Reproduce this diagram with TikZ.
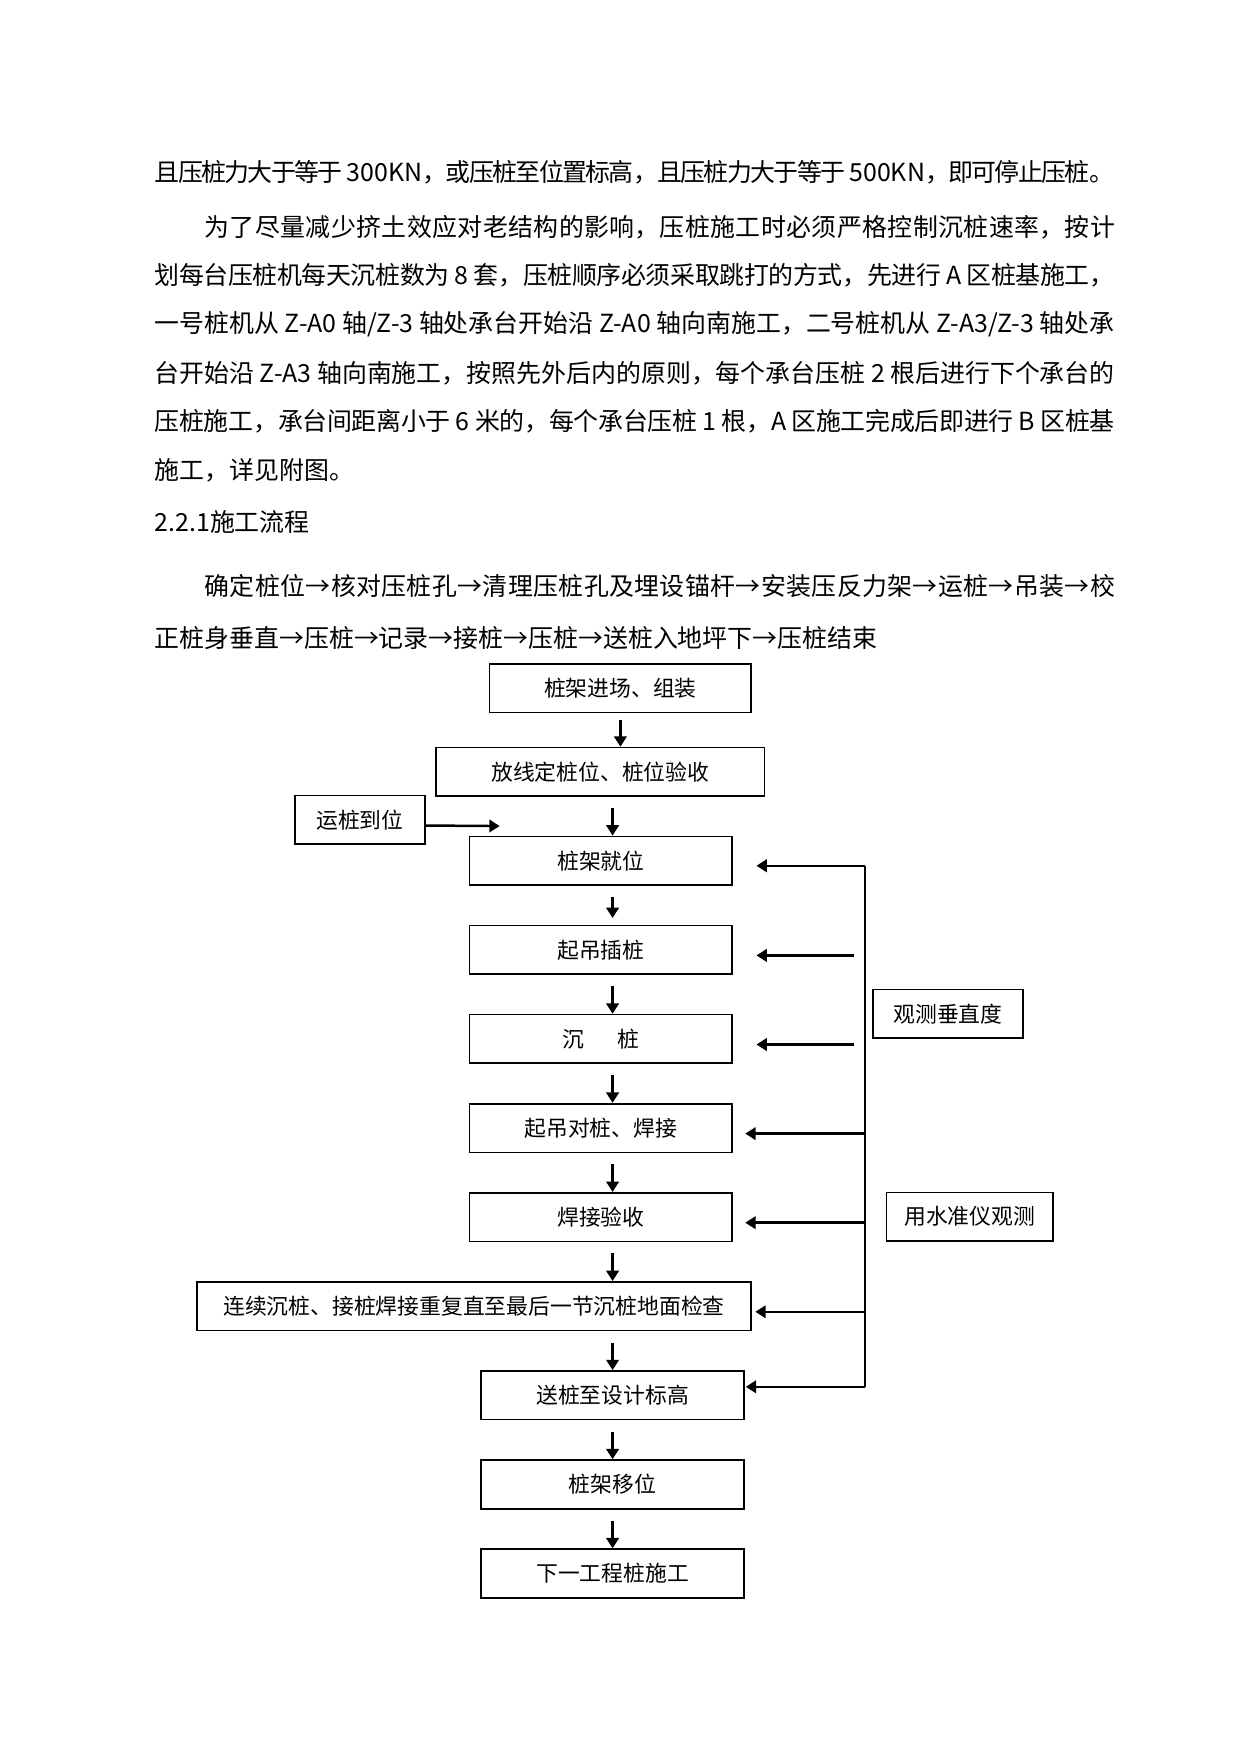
\documentclass[tikz,border=0pt]{standalone}
\usepackage{fontspec}
\setmainfont{Noto Sans CJK SC}
\usetikzlibrary{arrows.meta,positioning,calc}

\XeTeXlinebreaklocale "zh"
\XeTeXlinebreakskip=0pt plus 2pt minus 1pt
\newcommand{\pu}{0.018919cm}
\newcommand{\nofill}{\parfillskip=0pt\par}

\begin{document}
\begin{tikzpicture}[x=\pu,y=-\pu,node distance=1.508cm,on grid]
       \tikzstyle{box}=[draw, line width=0.8pt, minimum width=235*\pu, minimum height=43.5*\pu,
                        inner sep=0pt, font=\fontsize{10.5}{12}\selectfont]
       \tikzstyle{flow}=[-{Triangle[length=5pt,width=6pt]}, line width=1.2pt]
       \tikzstyle{para}=[anchor=west, inner sep=0pt, font=\fontsize{12}{14}\selectfont]
       \tikzstyle{wideline}=[para, align=justify, text width=16.25cm]
       \tikzstyle{indentline}=[para, align=justify, text width=15.41cm]

       \useasboundingbox (0,0) rectangle (1110,1570);

       % text above the chart
       \node[wideline]   (p1)  at (138,154)   {且压桩力大于等于 300KN，或压桩至位置标高，且压桩力大于等于 500KN，即可停止压桩。\nofill};
       \node[indentline] (p2a) at (182.6,203) {为了尽量减少挤土效应对老结构的影响，压桩施工时必须严格控制沉桩速率，按计\nofill};
       \node[wideline]   (p2b) at (138,246.5) {划每台压桩机每天沉桩数为 8 套，压桩顺序必须采取跳打的方式，先进行 A 区桩基施工，\nofill};
       \node[wideline]   (p2c) at (138,290)   {一号桩机从 Z-A0 轴/Z-3 轴处承台开始沿 Z-A0 轴向南施工，二号桩机从 Z-A3/Z-3 轴处承\nofill};
       \node[wideline]   (p2d) at (138,333.5) {台开始沿 Z-A3 轴向南施工，按照先外后内的原则，每个承台压桩 2 根后进行下个承台的\nofill};
       \node[wideline]   (p2e) at (138,377)   {压桩施工，承台间距离小于 6 米的，每个承台压桩 1 根，A 区施工完成后即进行 B 区桩基\nofill};
       \node[para]       (p2f) at (138,420.5) {施工，详见附图。};
       \node[para]       (sec) at (138,467)   {2.2.1施工流程};
       \node[indentline] (p3a) at (182.6,524) {确定桩位→核对压桩孔→清理压桩孔及埋设锚杆→安装压反力架→运桩→吊装→校\nofill};
       \node[para]       (p3b) at (138,571)   {正桩身垂直→压桩→记录→接桩→压桩→送桩入地坪下→压桩结束};

       % chart
       \node[box, minimum width=234*\pu] (jinchang)  at (555,615.5)  {桩架进场、组装};
       \node[box, minimum width=294*\pu] (fangxian)  at (537,690.5)  {放线定桩位、桩位验收};
       \node[box, minimum width=116*\pu] (yunzhuang) at (322,733.5)  {运桩到位};
       \node[box]                        (jiuwei)    at (537.5,770)  {桩架就位};
       \node[box] (chazhuang)  [below=of jiuwei]     {起吊插桩};
       \node[box] (chenzhuang) [below=of chazhuang]  {沉\hspace{1.5em}桩};
       \node[box] (duizhuang)  [below=of chenzhuang] {起吊对桩、焊接};
       \node[box] (yanshou)    [below=of duizhuang]  {焊接验收};
       \node[box, minimum width=496*\pu] (lianxu) [below=of yanshou, xshift=-113.5*\pu]
            {连续沉桩、接桩焊接重复直至最后一节沉桩地面检查};
       \node[box] (songzhuang) [below=of lianxu, xshift=124*\pu] {送桩至设计标高};
       \node[box] (yiwei)      [below=of songzhuang] {桩架移位};
       \node[box] (xiayi)      [below=of yiwei]      {下一工程桩施工};

       \node[box, minimum width=134*\pu] (chuizhi)  at (848,907)     {观测垂直度};
       \node[box, minimum width=149*\pu] (shuizhun) at (867.5,1088.5) {用水准仪观测};

       \coordinate (axis)  at (548,0);
       \coordinate (rail)  at (773.7,0);
       \coordinate (yzend) at (447,739);
       \coordinate (railtop) at ($(rail |- jiuwei.east)+(0,4.5)$);
       \coordinate (railbot) at ($(rail |- songzhuang.east)+(0,-7.6)$);

       % main column
       \path[flow]
       (jinchang.south) edge [shorten <=3.2pt] (jinchang.south |- fangxian.north)
       (axis |- fangxian.south)   edge [shorten <=5.4pt] (axis |- jiuwei.north)
       (axis |- jiuwei.south)     edge [shorten <=5.4pt, shorten >=3.2pt] (axis |- chazhuang.north)
       (axis |- chazhuang.south)  edge [shorten <=5.4pt] (axis |- chenzhuang.north)
       (axis |- chenzhuang.south) edge [shorten <=5.4pt] (axis |- duizhuang.north)
       (axis |- duizhuang.south)  edge [shorten <=5.4pt] (axis |- yanshou.north)
       (axis |- yanshou.south)    edge [shorten <=5.4pt] (axis |- lianxu.north)
       (axis |- lianxu.south)     edge [shorten <=5.4pt] (axis |- songzhuang.north)
       (axis |- songzhuang.south) edge [shorten <=5.4pt] (axis |- yiwei.north)
       (axis |- yiwei.south)      edge [shorten <=5.4pt] (axis |- xiayi.north);

       \draw[flow] ($(yunzhuang.east)+(0,5)$) -- (yzend);

       % feedback from the right
       \draw[line width=1pt] (railtop) -- (railbot);
       \draw[flow, shorten >=11.3pt] (railtop) -- (railtop -| jiuwei.east);
       \draw[flow, line width=1.5pt, shorten <=5.2pt, shorten >=11.3pt]
            ($(rail |- chazhuang.east)+(0,5)$) -- ($(chazhuang.east)+(0,5)$);
       \draw[flow, line width=1.5pt, shorten <=5.2pt, shorten >=11.3pt]
            ($(rail |- chenzhuang.east)+(0,5)$) -- ($(chenzhuang.east)+(0,5)$);
       \draw[flow, shorten >=5.9pt] ($(rail |- duizhuang.east)+(0,5)$) -- ($(duizhuang.east)+(0,5)$);
       \draw[flow, shorten >=5.9pt] ($(rail |- yanshou.east)+(0,5)$) -- ($(yanshou.east)+(0,5)$);
       \draw[flow, shorten >=1.6pt] ($(rail |- lianxu.east)+(0,5)$) -- ($(lianxu.east)+(0,5)$);
       \draw[flow, shorten >=0.5pt] (railbot) -- (railbot -| songzhuang.east);
     \end{tikzpicture}
\end{document}
